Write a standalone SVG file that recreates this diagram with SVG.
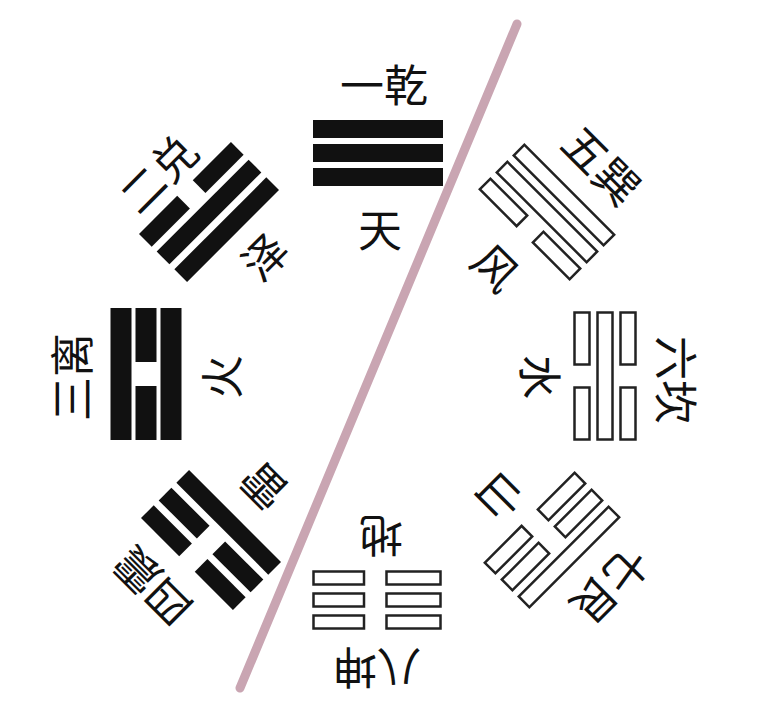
<svg xmlns="http://www.w3.org/2000/svg" width="766" height="722" viewBox="0 0 766 722">
<style>
.t{font-family:"Noto Sans CJK SC","Noto Sans CJK TC",sans-serif;font-size:44px;fill:#111;text-anchor:middle;dominant-baseline:central}
.f{fill:#111}
.h{fill:#fff;stroke:#222;stroke-width:2.5}
.div{stroke:#c9a5b2;stroke-width:9;stroke-linecap:round;fill:none}
</style>
<defs>
<g id="yangF"><rect class="f" x="-65" y="-9" width="130" height="18"/></g>
<g id="yinF"><rect class="f" x="-65" y="-9" width="54" height="18"/><rect class="f" x="11" y="-9" width="54" height="18"/></g>
<g id="yangH"><rect class="h" x="-63.5" y="-7.5" width="127" height="15"/></g>
<g id="yinH"><rect class="h" x="-63.5" y="-7.5" width="52" height="15"/><rect class="h" x="11.5" y="-7.5" width="52" height="15"/></g>
<g id="yinK"><rect class="h" x="-63.5" y="-6.5" width="54" height="13"/><rect class="h" x="13" y="-6.5" width="50.5" height="13"/></g>
<g id="yangL"><rect class="f" x="-66" y="-10.5" width="132" height="21"/></g>
<g id="yinL"><rect class="f" x="-66" y="-10.5" width="54" height="21"/><rect class="f" x="12" y="-10.5" width="54" height="21"/></g>
</defs>
<rect width="766" height="722" fill="#fff"/>
<g id="connectors">
<line class="div" x1="517" y1="24" x2="240" y2="688"/>
</g>
<g id="qian" transform="translate(378,153)">
<use href="#yangF" y="-24"/><use href="#yangF" y="0"/><use href="#yangF" y="24"/>
</g>
<g id="dui" transform="translate(209,212) rotate(-45)">
<use href="#yinF" y="-25"/><use href="#yangF" y="0"/><use href="#yangF" y="25"/>
</g>
<g id="li" transform="translate(146,374) rotate(-90)">
<use href="#yangL" y="-25"/><use href="#yinL" y="0"/><use href="#yangL" y="25"/>
</g>
<g id="zhen" transform="translate(211,540) rotate(-135)">
<use href="#yinF" y="-25"/><use href="#yinF" y="0"/><use href="#yangF" y="25"/>
</g>
<g id="xun" transform="translate(547,212) rotate(45)">
<use href="#yangH" y="-24"/><use href="#yangH" y="0"/><use href="#yinH" y="24"/>
</g>
<g id="kan" transform="translate(605,376) rotate(90)">
<use href="#yinH" y="-23"/><use href="#yangH" y="0"/><use href="#yinH" y="23"/>
</g>
<g id="gen" transform="translate(552,540) rotate(135)">
<use href="#yangH" y="-24"/><use href="#yinH" y="0"/><use href="#yinH" y="24"/>
</g>
<g id="kun" transform="translate(377,600) rotate(180)">
<use href="#yinK" y="-22"/><use href="#yinK" y="0"/><use href="#yinK" y="22"/>
</g>
<g id="labels">
<text class="t" transform="translate(384,83)">一乾</text>
<text class="t" transform="translate(380,228)">天</text>
<text class="t" transform="translate(157,172) rotate(-45)">二兑</text>
<text class="t" transform="translate(263,255) rotate(-45)">泽</text>
<text class="t" transform="translate(70,377) rotate(-90)">三离</text>
<text class="t" transform="translate(220,377) rotate(-90)">火</text>
<text class="t" transform="translate(151,588) rotate(-135)">四震</text>
<text class="t" transform="translate(262,488) rotate(-135)">雷</text>
<text class="t" transform="translate(603,164) rotate(45)">五巽</text>
<text class="t" transform="translate(497,266) rotate(45)">风</text>
<text class="t" transform="translate(678,380) rotate(90)">六坎</text>
<text class="t" transform="translate(542,377) rotate(90)">水</text>
<text class="t" transform="translate(612,587) rotate(135)">七艮</text>
<text class="t" transform="translate(502,498) rotate(135)">山</text>
<text class="t" transform="translate(377,670) rotate(180)">八坤</text>
<text class="t" transform="translate(381,538) rotate(180)">地</text>
</g>
</svg>
